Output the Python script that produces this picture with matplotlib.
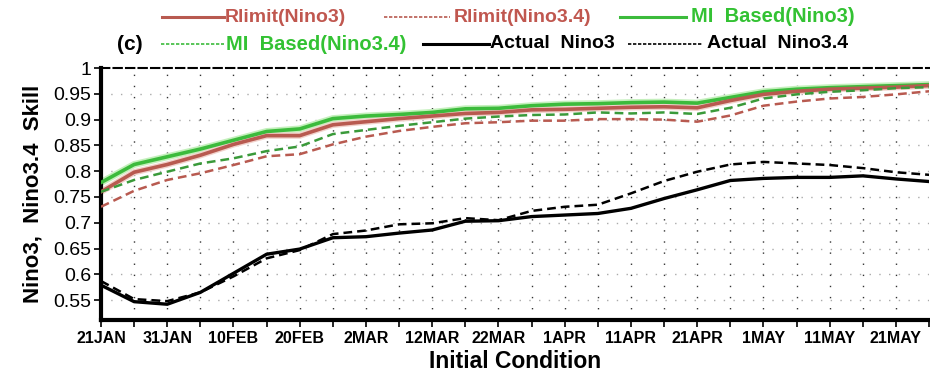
import matplotlib
matplotlib.use("Agg")
import matplotlib.pyplot as plt
from matplotlib.lines import Line2D
import numpy as np

plt.rcParams['font.family'] = ['Liberation Sans', 'DejaVu Sans']

# x: every 5 days starting 21JAN (26 points)
x_index = list(range(26))
tick_labels = ["21JAN", "31JAN", "10FEB", "20FEB", "2MAR", "12MAR", "22MAR",
               "1APR", "11APR", "21APR", "1MAY", "11MAY", "21MAY"]

rlimit_nino3 = [0.760, 0.798, 0.813, 0.831, 0.852, 0.869, 0.869, 0.890, 0.896, 0.902,
                0.907, 0.912, 0.914, 0.919, 0.920, 0.922, 0.924, 0.925, 0.923, 0.937,
                0.949, 0.955, 0.959, 0.961, 0.963, 0.966]
rlimit_nino34 = [0.731, 0.762, 0.783, 0.796, 0.812, 0.829, 0.833, 0.852, 0.867, 0.878,
                 0.886, 0.893, 0.895, 0.898, 0.898, 0.901, 0.901, 0.900, 0.896, 0.908,
                 0.927, 0.935, 0.941, 0.944, 0.949, 0.955]
mi_nino3 = [0.778, 0.813, 0.828, 0.843, 0.860, 0.877, 0.882, 0.902, 0.907, 0.910,
            0.914, 0.921, 0.922, 0.927, 0.930, 0.931, 0.933, 0.934, 0.932, 0.943,
            0.954, 0.959, 0.962, 0.964, 0.966, 0.968]
mi_nino34 = [0.760, 0.783, 0.799, 0.815, 0.825, 0.839, 0.848, 0.872, 0.880, 0.888,
             0.895, 0.902, 0.906, 0.909, 0.910, 0.914, 0.912, 0.914, 0.911, 0.923,
             0.941, 0.949, 0.954, 0.957, 0.961, 0.963]
actual_nino3 = [0.579, 0.547, 0.542, 0.565, 0.602, 0.639, 0.649, 0.671, 0.673, 0.680,
                0.686, 0.703, 0.704, 0.712, 0.715, 0.718, 0.728, 0.747, 0.764, 0.782,
                0.786, 0.788, 0.788, 0.791, 0.785, 0.780]
actual_nino34 = [0.587, 0.552, 0.548, 0.565, 0.596, 0.631, 0.647, 0.678, 0.685, 0.697,
                 0.699, 0.709, 0.705, 0.723, 0.731, 0.735, 0.757, 0.781, 0.799, 0.813,
                 0.818, 0.815, 0.812, 0.806, 0.798, 0.793]

RED = '#b85a50'
GREEN = '#3cbb3c'
GREEN_TXT = '#33c233'
RED_TXT = '#c0574f'

fig = plt.figure(figsize=(9.3, 3.72), dpi=100)
ax = fig.add_axes([0.1086, 0.140, 0.8904, 0.677])

ax.plot(x_index, mi_nino3, color='#c4f0bc', lw=5.0, zorder=2)
ax.plot(x_index, mi_nino3, color=GREEN, lw=2.6, zorder=3)
ax.plot(x_index, rlimit_nino3, color='#f2d2cc', lw=4.6, zorder=2)
ax.plot(x_index, rlimit_nino3, color=RED, lw=2.6, zorder=3)
ax.plot(x_index, mi_nino34, color='#3a9a3a', lw=1.8, ls=(0, (3.5, 2)), zorder=3)
ax.plot(x_index, rlimit_nino34, color=RED, lw=1.8, ls=(0, (3.5, 2)), zorder=3)
ax.plot(x_index, actual_nino3, color='black', lw=2.4, zorder=4)
ax.plot(x_index, actual_nino34, color='black', lw=1.8, ls=(0, (3.5, 2)), zorder=4)

ax.set_xlim(0, 25)
ax.set_ylim(0.5116, 1.0)

ax.set_xticks(np.arange(0, 26, 1), minor=True)
ax.set_xticks(np.arange(0, 25, 2))
ax.set_xticklabels(tick_labels)
yt = [0.55, 0.6, 0.65, 0.7, 0.75, 0.8, 0.85, 0.9, 0.95, 1.0]
ax.set_yticks(yt)
ax.set_yticklabels(['0.55', '0.6', '0.65', '0.7', '0.75', '0.8', '0.85', '0.9', '0.95', '1'])

ax.tick_params(axis='x', which='both', direction='out', length=5, width=1.2,
               labelsize=11.5, pad=3)
ax.tick_params(axis='y', which='major', direction='out', length=5, width=1.2,
               labelsize=14, pad=2)
for lab in ax.get_xticklabels():
    lab.set_fontweight('bold')

# grid
for v in [0.55, 0.6, 0.65, 0.7, 0.75, 0.8, 0.85, 0.9, 0.95]:
    ax.axhline(v, color='#aaaaaa', lw=1.0, ls=(0, (1, 6)), zorder=1)
for i in range(1, 25):
    ax.axvline(i, color='#333333', lw=1.0, ls=(0, (1, 7)), zorder=1)

ax.spines['left'].set_linewidth(3)
ax.spines['bottom'].set_linewidth(3)
ax.spines['top'].set_linewidth(1.5)
ax.spines['top'].set_linestyle((0, (4, 2)))
ax.spines['right'].set_visible(False)

ax.set_ylabel('Nino3,  Nino3.4  Skill', fontsize=16, fontweight='bold', labelpad=7)
ax.set_xlabel('Initial Condition', fontsize=16.5, fontweight='bold', labelpad=3)

# legend (manually placed, figure pixel coords)
W, H = 930.0, 372.0

def leg_line(x0, x1, y, color, ls, lw):
    fig.add_artist(Line2D([x0 / W, x1 / W], [1 - y / H, 1 - y / H],
                          color=color, ls=ls, lw=lw, transform=fig.transFigure))

def leg_text(x, y, s, color, size=14):
    fig.text(x / W, 1 - y / H, s, color=color, fontsize=size, fontweight='bold',
             ha='left', va='center')

leg_line(162, 224, 17, RED, '-', 2.2)
leg_text(225, 17, 'Rlimit(Nino3)', RED_TXT)
leg_line(384, 450, 17, RED, (0, (2, 1)), 1.2)
leg_text(454, 17, 'Rlimit(Nino3.4)', RED_TXT)
leg_line(620, 686, 17, GREEN, '-', 2.2)
leg_text(691, 17, 'MI  Based(Nino3)', GREEN_TXT, 14.5)

leg_text(117, 45, '(c)', 'black', 15)
leg_line(161, 224, 44, GREEN, (0, (2, 1)), 1.2)
leg_text(226, 44, 'MI  Based(Nino3.4)', GREEN_TXT, 14.5)
leg_line(423, 489, 44, 'black', '-', 2.2)
leg_text(490, 44, 'Actual  Nino3', 'black')
leg_line(628, 703, 44, 'black', (0, (2, 1)), 1.2)
leg_text(707, 44, 'Actual  Nino3.4', 'black')

fig.savefig('out.png', dpi=100)
